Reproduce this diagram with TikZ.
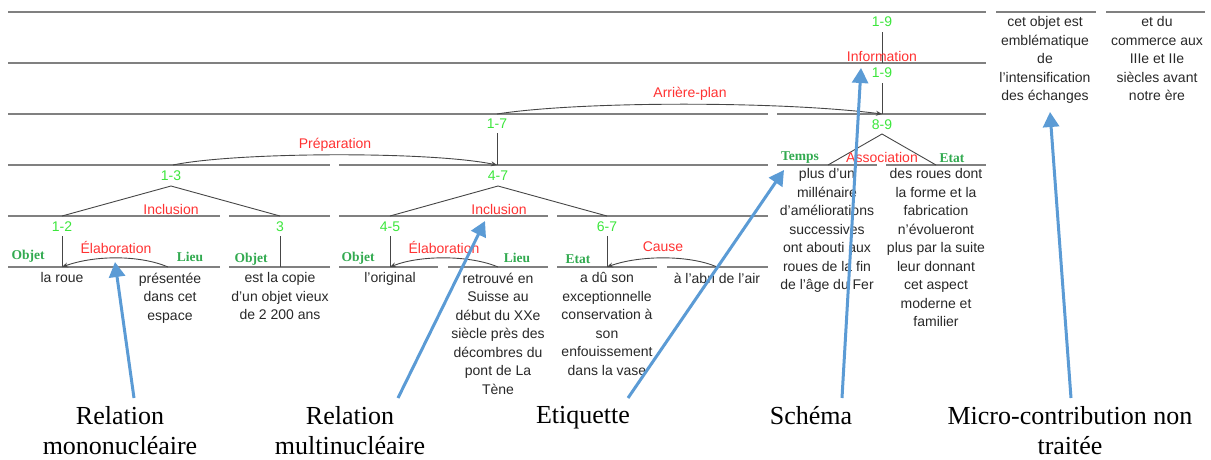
\documentclass[tikz,border=0pt]{standalone}
\usepackage{fontspec}
\setmainfont{Liberation Serif}
\newfontfamily\arial{Liberation Sans}
\usetikzlibrary{arrows.meta}
\definecolor{hlgray}{RGB}{128,128,128}
\definecolor{treegray}{RGB}{70,70,70}
\definecolor{numgreen}{RGB}{60,230,60}
\definecolor{relred}{RGB}{255,50,50}
\definecolor{rolegreen}{RGB}{50,170,80}
\definecolor{textgray}{RGB}{40,40,40}
\definecolor{calloutblue}{RGB}{91,155,213}
\tikzset{
  hl/.style={draw=hlgray, line width=1.4pt},
  tree/.style={draw=treegray, line width=0.9pt},
  num/.style={text=numgreen, font=\arial\fontsize{14}{16}\selectfont, inner sep=0pt},
  rel/.style={text=relred, font=\arial\fontsize{14}{16}\selectfont, inner sep=0pt},
  role/.style={text=rolegreen, font=\bfseries\fontsize{13.5}{15}\selectfont, inner sep=0pt, anchor=base},
  seg/.style={text=textgray, font=\arial\fontsize{14}{18.5}\selectfont, align=center, anchor=north, inner sep=0pt},
  relarc/.style={draw=treegray, line width=0.9pt, -{Stealth[length=6pt,width=5pt]}},
  callout/.style={draw=calloutblue, line width=3pt, -{Triangle[length=15pt,width=16pt]}},
  caption/.style={font=\fontsize{26}{30}\selectfont, align=center, anchor=north, inner sep=0pt},
}
\begin{document}
\begin{tikzpicture}[x=1pt,y=-1pt]
\useasboundingbox (0,0) rectangle (1211,459);
% horizontal level lines
\foreach \a/\b/\y in {8/986/12, 996/1096/12, 1106/1205/12, 8/986/63, 8/768/114, 777/986/114,
  8/330/165, 339/768/165, 777/877/165, 886/986/165,
  8/220/216, 229/330/216, 339/548/216, 557/768/216,
  8/220/267, 229/330/267, 339/438/267, 448/548/267, 557/657/267, 667/768/267}
  \draw[hl] (\a,\y) -- (\b,\y);

% span numbers
\node[num] (n19a) at (882,22) {1-9};
\node[num] (n19b) at (882,73) {1-9};
\node[num] (n89) at (882,125) {8-9};
\node[num] (n17) at (497,124) {1-7};
\node[num] (n13) at (171,176) {1-3};
\node[num] (n47) at (498,176) {4-7};
\node[num] (n12) at (62,227) {1-2};
\node[num] (n3) at (280,227) {3};
\node[num] (n45) at (390,227) {4-5};
\node[num] (n67) at (607,227) {6-7};

% tree points
\coordinate (a19a) at (882,32);  \coordinate (f19a) at (882,63);
\coordinate (a19b) at (882,83);  \coordinate (f19b) at (882,114);
\coordinate (a17) at (497,133);  \coordinate (f17) at (497,165);
\coordinate (a12) at (62,236);   \coordinate (f12) at (62,267);
\coordinate (a3) at (280,236);   \coordinate (f3) at (280,267);
\coordinate (a45) at (390,236);  \coordinate (f45) at (390,267);
\coordinate (a67) at (607,236);  \coordinate (f67) at (607,267);
\coordinate (p13) at (171,186);  \coordinate (l13) at (62,216);  \coordinate (r13) at (280,216);
\coordinate (p47) at (498,186);  \coordinate (l47) at (390,216); \coordinate (r47) at (607,216);
\coordinate (p89) at (882,134);  \coordinate (l89) at (828,165); \coordinate (r89) at (936,165);
\coordinate (s13) at (173,165);
\coordinate (s17) at (497,114);
\coordinate (e1) at (168,267);
\coordinate (e2) at (498,267);
\coordinate (e3) at (717,267);

% vertical spans
\draw[tree] (a19a) -- (f19a);
\draw[tree] (a19b) -- (f19b);
\draw[tree] (a17) -- (f17);
\draw[tree] (a12) -- (f12);
\draw[tree] (a3) -- (f3);
\draw[tree] (a45) -- (f45);
\draw[tree] (a67) -- (f67);
% multinuclear triangles
\draw[tree] (l13) -- (p13) -- (r13);
\draw[tree] (l47) -- (p47) -- (r47);
\draw[tree] (l89) -- (p89) -- (r89);

% mononuclear arcs
\draw[relarc] (s13) .. controls (235,152) and (430,151) .. (f17);
\draw[relarc] (s17) .. controls (580,101) and (780,101) .. (f19b);
\draw[relarc] (e1) .. controls (140,255) and (95,255) .. (f12);
\draw[relarc] (e2) .. controls (470,255) and (420,255) .. (f45);
\draw[relarc] (e3) .. controls (690,255) and (640,255) .. (f67);

% relation names
\node[rel] (rInfo) at (882,56) {Information};
\node[rel] (rArr) at (690,94) {Arrière-plan};
\node[rel] (rPrep) at (335,145) {Préparation};
\node[rel] (rAss) at (882,157) {Association};
\node[rel] (rInc1) at (171,209) {Inclusion};
\node[rel] (rInc2) at (499,209) {Inclusion};
\node[rel] (rEla1) at (116,247) {Élaboration};
\node[rel] (rEla2) at (444,247) {Élaboration};
\node[rel] (rCau) at (663,247) {Cause};

% role labels
\node[role] (o1) at (28,259) {Objet};
\node[role] (li1) at (190,261) {Lieu};
\node[role] (o2) at (251,262) {Objet};
\node[role] (o3) at (358,261) {Objet};
\node[role] (li2) at (517,262) {Lieu};
\node[role] (et1) at (578,263) {Etat};
\node[role] (tp) at (800,160) {Temps};
\node[role] (et2) at (952,162) {Etat};

% segments
\node[seg] (g1) at (62,272.5) {la roue};
\node[seg] (g2) at (170,272.5) {présentée\\dans cet\\espace};
\node[seg] (g3) at (280,272.5) {est la copie\\d’un objet vieux\\de 2 200 ans};
\node[seg] (g4) at (390,272.5) {l’original};
\node[seg] (g5) at (498,272.5) {retrouvé en\\Suisse au\\début du XXe\\siècle près des\\décombres du\\pont de La\\Tène};
\node[seg] (g6) at (607,272.5) {a dû son\\exceptionnelle\\conservation à\\son\\enfouissement\\dans la vase};
\node[seg] (g7) at (717,272.5) {à l’abri de l’air};
\node[seg] (g8) at (827,168.5) {plus d’un\\millénaire\\d’améliorations\\successives\\ont abouti aux\\roues de la fin\\de l’âge du Fer};
\node[seg] (g9) at (936,168.5) {des roues dont\\la forme et la\\fabrication\\n’évolueront\\plus par la suite\\leur donnant\\cet aspect\\moderne et\\familier};
\node[seg] (g10) at (1045,16.5) {cet objet est\\emblématique\\de\\l’intensification\\des échanges};
\node[seg] (g11) at (1157,16.5) {et du\\commerce aux\\IIIe et IIe\\siècles avant\\notre ère};

% captions
\node[caption] (c1) at (120,406) {Relation\\mononucléaire};
\node[caption] (c2) at (350,406) {Relation\\multinucléaire};
\node[caption] (c3) at (583,406) {Etiquette};
\node[caption] (c4) at (811,406) {Schéma};
\node[caption] (c5) at (1070,406) {Micro-contribution non\\traitée};

% callout arrows
\coordinate (k1t) at (134,398); \coordinate (k1h) at (115,262);
\coordinate (k2t) at (398,398); \coordinate (k2h) at (485,221);
\coordinate (k3t) at (628,398); \coordinate (k3h) at (784,170);
\coordinate (k4t) at (842,398); \coordinate (k4h) at (861,68);
\coordinate (k5t) at (1071,398); \coordinate (k5h) at (1050,112);
\draw[callout] (k1t) -- (k1h);
\draw[callout] (k2t) -- (k2h);
\draw[callout] (k3t) -- (k3h);
\draw[callout] (k4t) -- (k4h);
\draw[callout] (k5t) -- (k5h);
\end{tikzpicture}
\end{document}
